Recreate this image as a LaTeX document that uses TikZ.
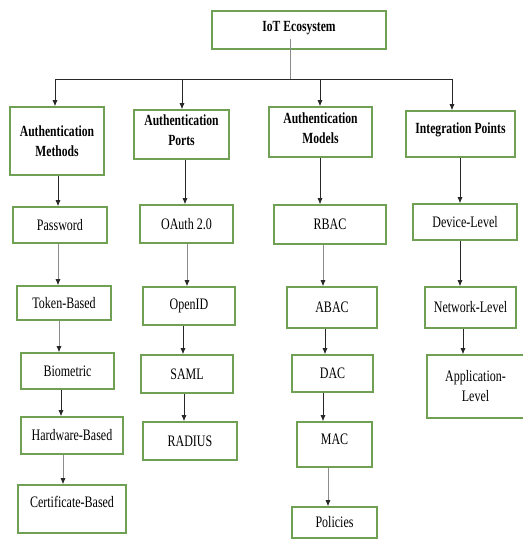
\documentclass[tikz,border=0pt]{standalone}
\usepackage{fontspec}
\setmainfont{Liberation Serif}[FakeStretch=0.75]
\usetikzlibrary{arrows.meta}
\definecolor{boxgreen}{RGB}{112,160,84}
\definecolor{darkln}{RGB}{40,40,40}
\definecolor{lightln}{RGB}{140,140,140}
\tikzset{
  box/.style={draw=boxgreen, line width=1.6pt, fill=white, align=center,
    inner sep=2pt, font=\fontsize{16}{20}\selectfont},
  hbox/.style={box, font=\fontsize{15.5}{20}\selectfont\bfseries},
  bs/.style args={#1x#2}{minimum width=#1pt, minimum height=#2pt},
  arr/.style={draw=darkln, line width=0.7pt, -{Latex[length=6pt,width=5pt]}},
  arrlt/.style={draw=lightln, line width=0.7pt, -{Latex[length=6pt,width=5pt,color=darkln]}},
  ln/.style={draw=darkln, line width=0.7pt}
}
\begin{document}
\begin{tikzpicture}[x=1pt,y=-1pt]
\useasboundingbox (0,0) rectangle (522,540);
% top
\node[hbox, bs=174x38, text depth=7pt] (iot) at (299,30) {IoT Ecosystem};
\coordinate (bus) at (290,79);
% headers
\node[hbox, bs=94x68] (am) at (57,141) {Authentication\\Methods};
\node[hbox, bs=95x49, text depth=9pt] (ap) at (181.5,134.5) {Authentication\\Ports};
\node[hbox, bs=103x50, text depth=8pt] (amod) at (320.5,132) {Authentication\\Models};
\node[hbox, bs=109x46, text depth=12pt] (ip) at (460.5,134) {Integration Points};
% column 1
\node[box, bs=94x36] (pw) at (60,225) {Password};
\node[box, bs=94x34] (tb) at (64,303) {Token-Based};
\node[box, bs=93x36] (bio) at (67.5,371) {Biometric};
\node[box, bs=102x37] (hw) at (72,435.5) {Hardware-Based};
\node[box, bs=108x48, text depth=14pt] (cert) at (72,509) {Certificate-Based};
% column 2
\node[box, bs=93x38] (oauth) at (186.5,224) {OAuth 2.0};
\node[box, bs=92x38] (oid) at (189,306) {OpenID};
\node[box, bs=92x38] (saml) at (187,374) {SAML};
\node[box, bs=94x38] (rad) at (190,441) {RADIUS};
% column 3
\node[box, bs=112x39] (rbac) at (330,224.5) {RBAC};
\node[box, bs=90x41] (abac) at (332,307.5) {ABAC};
\node[box, bs=81x37] (dac) at (332.5,373.5) {DAC};
\node[box, bs=75x45, text depth=10pt] (mac) at (334.5,444.5) {MAC};
\node[box, bs=85x31] (pol) at (334.5,522.5) {Policies};
% column 4
\node[box, bs=104x36] (dev) at (465,222) {Device-Level};
\node[box, bs=91x41] (net) at (470.5,307.5) {Network-Level};
\node[box, bs=97x63] (app) at (475.5,386.5) {Application-\\Level};
% bus
\draw[ln, draw=lightln] ([xshift=-9pt,yshift=11pt]iot.south) -- (bus);
\draw[ln] (bus -| 55,0) -- (bus -| 452,0);
\draw[arr] (bus -| 55,0) -- (55,0 |- am.north);
\draw[arr] (bus -| 182,0) -- (182,0 |- ap.north);
\draw[arr] (bus -| 320,0) -- (320,0 |- amod.north);
\draw[arr] (bus -| 452,0) -- (452,0 |- ip.north);
% column 1 arrows
\draw[arr] ([xshift=1pt]am.south) -- ([xshift=1pt]am.south |- pw.north);
\draw[arrlt] ([xshift=-2pt]pw.south) -- ([xshift=-2pt]pw.south |- tb.north);
\draw[arrlt] ([xshift=-5pt]tb.south) -- ([xshift=-5pt]tb.south |- bio.north);
\draw[arr] ([xshift=-6.5pt]bio.south) -- ([xshift=-6.5pt]bio.south |- hw.north);
\draw[arrlt] ([xshift=-9pt]hw.south) -- ([xshift=-9pt]hw.south |- cert.north);
% column 2 arrows
\draw[arr] ([xshift=3.5pt]ap.south) -- ([xshift=3.5pt]ap.south |- oauth.north);
\draw[arrlt] ([xshift=0.5pt]oauth.south) -- ([xshift=0.5pt]oauth.south |- oid.north);
\draw[arr] ([xshift=-6pt]oid.south) -- ([xshift=-6pt]oid.south |- saml.north);
\draw[arr] ([xshift=-3pt]saml.south) -- ([xshift=-3pt]saml.south |- rad.north);
% column 3 arrows
\draw[arr] ([xshift=-0.5pt]amod.south) -- ([xshift=-0.5pt]amod.south |- rbac.north);
\draw[arrlt] ([xshift=-7pt]rbac.south) -- ([xshift=-7pt]rbac.south |- abac.north);
\draw[arr] ([xshift=-7pt]abac.south) -- ([xshift=-7pt]abac.south |- dac.north);
\draw[arr] ([xshift=-9.5pt]dac.south) -- ([xshift=-9.5pt]dac.south |- mac.north);
\draw[arrlt] ([xshift=-6.5pt]mac.south) -- ([xshift=-6.5pt]mac.south |- pol.north);
% column 4 arrows
\draw[arr] ([xshift=-0.5pt]ip.south) -- ([xshift=-0.5pt]ip.south |- dev.north);
\draw[arr] ([xshift=-5pt]dev.south) -- ([xshift=-5pt]dev.south |- net.north);
\draw[arr] ([xshift=-7.5pt]net.south) -- ([xshift=-7.5pt]net.south |- app.north);
\end{tikzpicture}
\end{document}
